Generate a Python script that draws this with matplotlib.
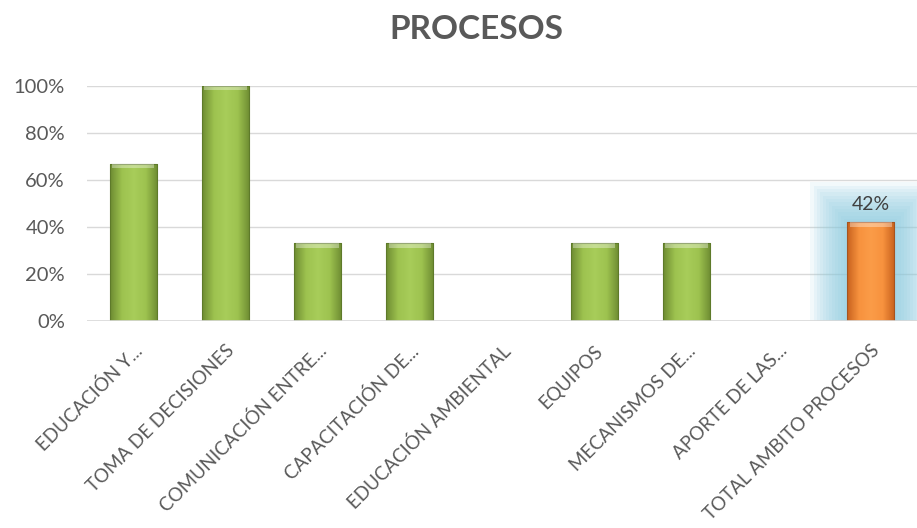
import matplotlib
matplotlib.use('Agg')
import matplotlib.pyplot as plt
import numpy as np
from matplotlib.colors import LinearSegmentedColormap

categories = ['EDUCACIÓN Y...', 'TOMA DE DECISIONES', 'COMUNICACIÓN ENTRE...',
              'CAPACITACIÓN DE...', 'EDUCACIÓN AMBIENTAL', 'EQUIPOS',
              'MECANISMOS DE...', 'APORTE DE LAS...', 'TOTAL AMBITO PROCESOS']
values = [0.67, 1.00, 0.33, 0.33, 0.0, 0.33, 0.33, 0.0, 0.42]
yticks = [0, 0.2, 0.4, 0.6, 0.8, 1.0]
ytick_labels = ['0%', '20%', '40%', '60%', '80%', '100%']
total_label = '42%'

plt.rcParams['font.family'] = ['Lato', 'DejaVu Sans']

fig = plt.figure(figsize=(9.17, 5.28), dpi=100)
ax = fig.add_axes([0.095, 0.392, 0.905, 0.445])

x = np.arange(len(categories))
bw = 0.51

# soft glow behind the total bar
last = len(categories) - 1
n = 12
for k in range(n, 0, -1):
    f = k / n
    ax.bar(x[last], values[last] + 0.17 * f, width=bw + 0.8 * f,
           color='#8CCBE0', alpha=0.11, zorder=1, linewidth=0)

green = LinearSegmentedColormap.from_list('g', ['#6E8C32', '#9DC24F', '#A8CD5A', '#9DC24F', '#6E8C32'])
orange = LinearSegmentedColormap.from_list('o', ['#C8621E', '#F7923E', '#FB9C48', '#F7923E', '#C8621E'])
grad = np.linspace(0, 1, 100).reshape(1, -1)

bars = ax.bar(x, values, width=bw, zorder=3, linewidth=0.8)
for i, b in enumerate(bars):
    if values[i] <= 0:
        continue
    cmap = orange if i == last else green
    b.set_facecolor('none')
    b.set_edgecolor('#A65420' if i == last else '#5E7A2A')
    im = ax.imshow(grad, cmap=cmap, aspect='auto', zorder=2.5,
                   extent=[b.get_x(), b.get_x() + b.get_width(), 0, b.get_height()])
    im.set_clip_path(b)
    # bevel highlight at top
    ax.bar(b.get_x() + b.get_width() / 2, 0.018, bottom=b.get_height() - 0.018,
           width=b.get_width() * 0.9, color='white', alpha=0.35, zorder=3, linewidth=0)

ax.text(x[last], values[last] + 0.04, total_label, ha='center', va='bottom',
        fontsize=14, color='#404040')

ax.set_xlim(-0.5, len(categories) - 0.5)
ax.set_ylim(0, 1)
ax.set_yticks(yticks)
ax.set_yticklabels(ytick_labels, fontsize=14.5, color='#595959')
ax.set_xticks(x)
ax.set_xticklabels(categories, rotation=45, ha='right', rotation_mode='anchor',
                   fontsize=13.5, color='#595959')
ax.tick_params(axis='y', length=0, pad=16)
ax.tick_params(axis='x', length=0, pad=15)
ax.grid(axis='y', color='#D9D9D9', linewidth=1, zorder=0)
ax.set_axisbelow(True)
for s in ax.spines.values():
    s.set_visible(False)
ax.axhline(0, color='#D9D9D9', linewidth=1.2, zorder=4)

fig.text(0.52, 0.945, 'PROCESOS', ha='center', va='center', fontsize=24,
         fontweight='bold', color='#595959')

fig.savefig('out.png', dpi=100)
